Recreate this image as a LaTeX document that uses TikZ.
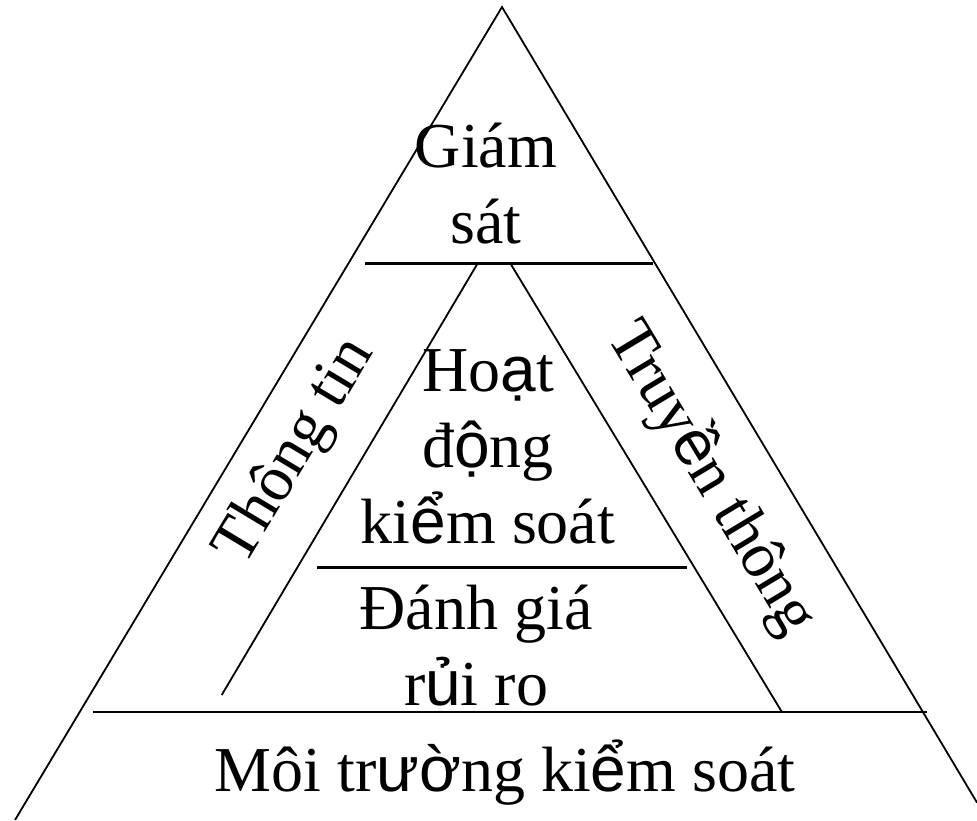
\documentclass[tikz,border=0pt]{standalone}
\usepackage{fontspec}
\setmainfont{Liberation Serif}
\newfontfamily\fb{Liberation Sans}
\begin{document}
\begin{tikzpicture}[x=1pt,y=-1pt,
  diag/.style={line width=1.8pt},
  hline/.style={line width=2.7pt},
  lbl/.style={inner sep=0pt,align=center,font=\fontsize{64}{76}\selectfont}]
\useasboundingbox (0,0) rectangle (977,820);
% outer triangle
\coordinate (apex) at (502,7);
\coordinate (bl) at (15,820);
\coordinate (br) at (977,802.6);
\draw[diag] (bl) -- (apex) -- (br);
% top horizontal
\coordinate (t1) at (365,263.3);
\coordinate (t2) at (653,263.3);
\draw[hline] (t1) -- (t2);
% inner triangle sides
\coordinate (il1) at (477.7,263.3);
\coordinate (il2) at (221.7,695);
\coordinate (ir1) at (510.3,263.3);
\coordinate (ir2) at (781.7,711.7);
\draw[diag] (il1) -- (il2);
\draw[diag] (ir1) -- (ir2);
% middle horizontal
\coordinate (m1) at (316.7,567.3);
\coordinate (m2) at (686.7,567.3);
\draw[hline] (m1) -- (m2);
% bottom horizontal
\coordinate (b1) at (93.3,712);
\coordinate (b2) at (926.7,712);
\draw[hline] (b1) -- (b2);
% labels (base anchor = baseline of last line)
\node[lbl,anchor=base] (gs) at (486,243) {Giám\\sát};
\node[lbl,anchor=base] (hd) at (488,543) {Ho{\fb ạ}t\\ đ{\fb ộ}ng\\ki{\fb ể}m soát};
\node[lbl,anchor=base] (dg) at (476,705) {Đánh giá\\r{\fb ủ}i ro};
\node[lbl,anchor=base] (mt) at (505,791.7) {Môi tr{\fb ườ}ng ki{\fb ể}m soát};
\node[lbl,rotate=59] (tt) at (296,452) {Thông tin};
\node[lbl,rotate=-59] (tr) at (712,478) {Truy{\fb ề}n thông};
\end{tikzpicture}
\end{document}
